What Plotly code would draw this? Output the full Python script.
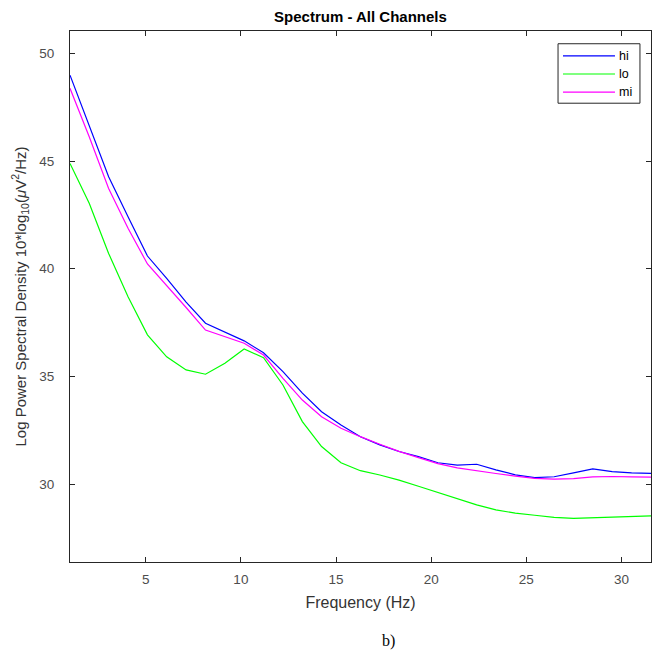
import plotly.graph_objects as go

# Frequency bins (Hz)
freqs = [1.02, 2.03, 3.05, 4.07, 5.09, 6.10, 7.12, 8.14, 9.16, 10.17,
         11.19, 12.21, 13.23, 14.24, 15.26, 16.28, 17.30, 18.31, 19.33, 20.35,
         21.37, 22.39, 23.40, 24.42, 25.44, 26.46, 27.48, 28.49, 29.51, 30.53, 31.55]

hi = [48.99, 46.60, 44.27, 42.41, 40.59, 39.55, 38.45, 37.47, 37.05, 36.65,
      36.10, 35.22, 34.22, 33.36, 32.74, 32.20, 31.82, 31.51, 31.27, 30.99,
      30.88, 30.92, 30.66, 30.43, 30.30, 30.34, 30.52, 30.70, 30.58, 30.52, 30.50]

lo = [44.89, 43.04, 40.71, 38.70, 36.93, 35.91, 35.30, 35.10, 35.61, 36.27,
      35.87, 34.60, 32.90, 31.74, 30.99, 30.62, 30.42, 30.18, 29.90, 29.62,
      29.33, 29.03, 28.80, 28.65, 28.55, 28.45, 28.41, 28.44, 28.47, 28.50, 28.52]

mi = [48.38, 46.13, 43.73, 41.88, 40.22, 39.24, 38.20, 37.15, 36.85, 36.54,
      35.99, 34.91, 33.90, 33.13, 32.59, 32.20, 31.85, 31.52, 31.23, 30.95,
      30.75, 30.61, 30.49, 30.37, 30.26, 30.23, 30.25, 30.33, 30.35, 30.33, 30.32]

x_ticks = [5, 10, 15, 20, 25, 30]
y_ticks = [30, 35, 40, 45, 50]

series = [("hi", hi, "#0000ff"), ("lo", lo, "#00ff00"), ("mi", mi, "#ff00ff")]

FONT = "Liberation Sans, Arial"

fig = go.Figure()
for name, vals, col in series:
    fig.add_trace(go.Scatter(x=freqs, y=vals, mode="lines", name=name,
                             line=dict(color=col, width=1.2), showlegend=False))

axis_common = dict(
    showgrid=False, zeroline=False, showline=True, linecolor="#262626",
    linewidth=1, mirror="ticks", ticks="inside", ticklen=5, tickcolor="#262626",
    tickfont=dict(family=FONT, size=13.5, color="#4d4d4d"),
)

fig.update_layout(
    width=653, height=654,
    margin=dict(l=70, r=2, t=31, b=92),
    paper_bgcolor="white", plot_bgcolor="white",
    title=dict(text="<b>Spectrum - All Channels</b>", x=0.552, xanchor="center",
               y=0.974, yanchor="middle",
               font=dict(family=FONT, size=15, color="black")),
    xaxis=dict(range=[1.02, 31.55], tickvals=x_ticks, ticklabelstandoff=5,
               title=dict(text="Frequency (Hz)", standoff=10,
                          font=dict(family=FONT, size=16, color="#333333")),
               **axis_common),
    yaxis=dict(range=[26.38, 51.04], tickvals=y_ticks, ticklabelstandoff=12,
               title=dict(text="Log Power Spectral Density 10*log<sub>10</sub>(<i>μ</i>V<sup>2</sup>/Hz)",
                          standoff=9,
                          font=dict(family=FONT, size=15, color="#333333")),
               **axis_common),
    showlegend=False,
)

# Legend box drawn in paper coordinates
fig.add_shape(type="rect", xref="paper", yref="paper", x0=0.840, x1=0.981,
              y0=0.864, y1=0.976, line=dict(color="#262626", width=1),
              fillcolor="white", layer="above")
leg_rows = [0.953, 0.919, 0.885]
for (name, vals, col), yy in zip(series, leg_rows):
    fig.add_shape(type="line", xref="paper", yref="paper", x0=0.8485, x1=0.938,
                  y0=yy, y1=yy, line=dict(color=col, width=1.2), layer="above")
    fig.add_annotation(text=name, xref="paper", yref="paper", x=0.9415, y=yy,
                       xanchor="left", yanchor="middle", showarrow=False,
                       font=dict(family=FONT, size=12.5, color="black"))

fig.add_annotation(text="b)", xref="paper", yref="paper", x=0.548, y=-0.148,
                   xanchor="center", yanchor="middle", showarrow=False,
                   font=dict(family="Liberation Serif, Times New Roman", size=16, color="black"))

fig.write_html("out.html", config={"displayModeBar": False},
               post_script="document.body.style.margin='0';")
